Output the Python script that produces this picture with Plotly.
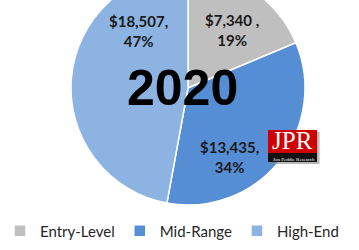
import plotly.graph_objects as go

categories = ["Entry-Level", "Mid-Range", "High-End"]
values = [7340, 13435, 18507]
pct_labels = ["19%", "34%", "47%"]
colors = ["#BFBFBF", "#558ED5", "#8DB3E2"]
year = "2020"

W, H, SHIFT = 359, 280, 30

def py(y):
    # reference pixel y (from top, in 250px window) -> paper y
    return (H - (y + SHIFT)) / H

def px(x):
    return x / W

texts = [f"<b>${v:,}{' ,' if i == 0 else ','}<br>{p}</b>" for i, (v, p) in enumerate(zip(values, pct_labels))]
label_pos = [(232, 30), (229, 157), (138, 31)]

fig = go.Figure()
fig.add_trace(go.Pie(
    labels=categories, values=values, sort=False, direction="clockwise", rotation=0,
    marker=dict(colors=colors, line=dict(color="white", width=1.5)),
    textinfo="none",
    domain=dict(x=[px(71), px(305)], y=[py(205), py(-29)]),
    hoverinfo="label+value+percent",
))

for t, (lx, ly) in zip(texts, label_pos):
    fig.add_annotation(x=px(lx), y=py(ly), xref="paper", yref="paper", text=t, showarrow=False,
                       xanchor="center", yanchor="middle",
                       font=dict(family="Lato", size=15, color="#1a1a1a"), align="center")

fig.add_annotation(x=px(182), y=py(88), xref="paper", yref="paper", text=f"<b>{year}</b>",
                   xanchor="center", yanchor="middle",
                   showarrow=False, font=dict(family="Liberation Sans", size=50, color="black"))

# JPR logo
fig.add_shape(type="rect", xref="paper", yref="paper", x0=px(270), x1=px(319.5), y0=py(164), y1=py(132),
              fillcolor="#8a8a8a", line=dict(width=0), opacity=0.6)
fig.add_shape(type="rect", xref="paper", yref="paper", x0=px(268), x1=px(317), y0=py(153), y1=py(130),
              fillcolor="#D00000", line=dict(width=0))
fig.add_shape(type="rect", xref="paper", yref="paper", x0=px(268), x1=px(317), y0=py(162), y1=py(153),
              fillcolor="#111111", line=dict(width=0))
fig.add_annotation(x=px(292), y=py(140.5), xref="paper", yref="paper", text="JPR", showarrow=False,
                   xanchor="center", yanchor="middle", borderpad=0,
                   font=dict(family="Liberation Serif", size=25, color="white"))
fig.add_annotation(x=px(293.5), y=py(159), xref="paper", yref="paper", text="Jon Peddie Research",
                   xanchor="center", yanchor="middle", borderpad=0,
                   showarrow=False, font=dict(family="Liberation Serif", size=5, color="white"))

fig.update_layout(
    width=W, height=H, margin=dict(l=0, r=0, t=0, b=0),
    paper_bgcolor="white", plot_bgcolor="white",
    showlegend=True,
    legend=dict(orientation="h", x=0.0, xanchor="left", y=py(231), yanchor="middle",
                font=dict(family="Lato", size=15, color="#262626"), itemwidth=30,
                traceorder="normal"),
)

fig.write_html("out.html", post_script="document.getElementById('{plot_id}').style.marginTop='-%dpx';" % SHIFT)
